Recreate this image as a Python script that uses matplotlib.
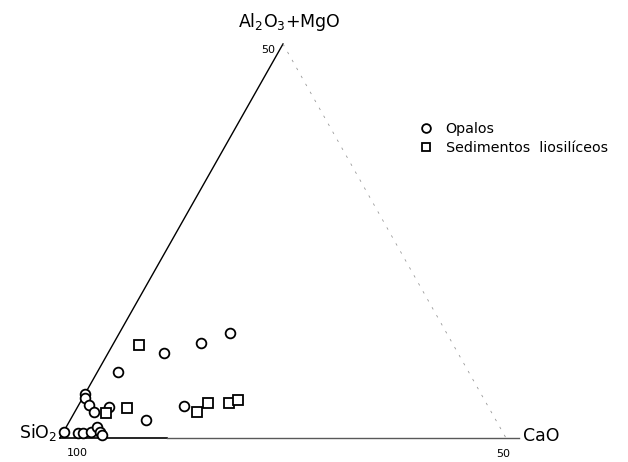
import numpy as np
import matplotlib
matplotlib.use("Agg")
import matplotlib.pyplot as plt

# partial ternary: SiO2 100..50, CaO 0..50, Al2O3+MgO 0..50  (values in %)
opalos_cao = [12.4, 9.8, 6.3, 2.3, 0.0, 0.3, 1.2, 2.2, 3.6, 8.5, 11.9,
              0.0, 1.7, 2.3, 3.1, 3.5, 4.1, 4.5]
opalos_alm = [13.3, 12.1, 10.8, 8.4, 5.6, 5.1, 4.2, 3.3, 3.9, 2.3, 4.1,
              0.8, 0.6, 0.6, 0.8, 1.4, 0.8, 0.4]

sed_cao = [3.0, 5.6, 3.6, 13.7, 14.4, 16.8, 17.5]
sed_alm = [11.8, 3.8, 3.2, 3.3, 4.4, 4.4, 4.8]

legend_labels = ["Opalos", "Sedimentos  liosilíceos"]
span = 50.0


def tern(cao, alm):
    c = np.asarray(cao) / span
    a = np.asarray(alm) / span
    return c + 0.5 * a, a * np.sqrt(3) / 2


fig = plt.figure(figsize=(6.28, 4.62), dpi=100)
ax = fig.add_axes([0, 0, 1, 1])
ax.set_xlim(-0.1345, 1.2735)
ax.set_ylim(-0.0527, 0.9626)
ax.axis("off")

h = np.sqrt(3) / 2
# frame of the triangle
ax.plot([0, 0.5], [0, h], color="black", lw=1.0)
ax.plot([0, 0.24], [0, 0], color="black", lw=1.2)
ax.plot([0.24, 1.03], [0, 0], color="0.35", lw=1.0)
ax.plot([0.5, 1.0], [h, 0], color="0.6", lw=0.6, ls=(0, (3, 8)))

x, y = tern(opalos_cao, opalos_alm)
ax.plot(x, y, "o", ms=7, mfc="white", mec="black", mew=1.3,
        label=legend_labels[0], zorder=3)
x, y = tern(sed_cao, sed_alm)
ax.plot(x, y, "s", ms=7, mfc="white", mec="black", mew=1.3,
        label=legend_labels[1], zorder=3)

ax.text(0.5135, 0.914, r"Al$_2$O$_3$+MgO", fontsize=12.5, ha="center", va="center")
ax.text(0.466, 0.853, "50", fontsize=8, ha="center", va="center")
ax.text(-0.006, 0.012, r"SiO$_2$", fontsize=12.5, ha="right", va="center")
ax.text(1.038, 0.004, "CaO", fontsize=12.5, ha="left", va="center")
ax.text(0.038, -0.033, "100", fontsize=8, ha="center", va="center")
ax.text(0.993, -0.035, "50", fontsize=8, ha="center", va="center")

ax.legend(loc="upper left", bbox_to_anchor=(0.655, 0.752), frameon=False,
          fontsize=10.3, handlelength=1.0, handletextpad=0.9, labelspacing=0.4,
          borderpad=0, markerscale=0.9)

fig.savefig("out.png", dpi=100)
